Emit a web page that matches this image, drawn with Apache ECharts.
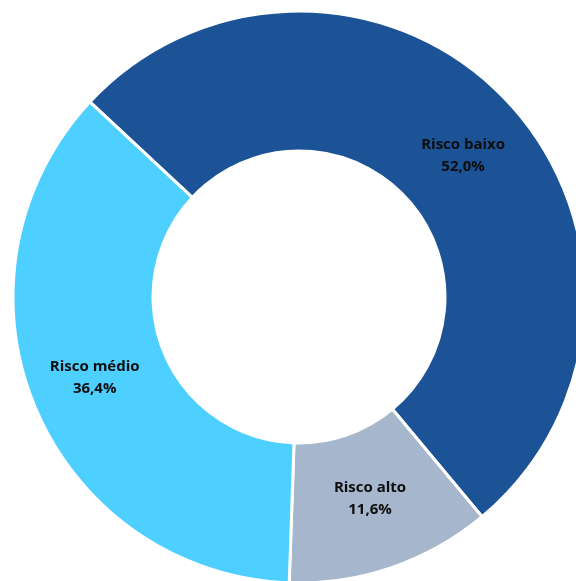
<!DOCTYPE html>
<html>
<head>
<meta charset="utf-8">
<script src="https://cdn.jsdelivr.net/npm/echarts@6/dist/echarts.min.js"></script>
<style>
  html, body { margin: 0; padding: 0; background: #ffffff; }
  #chart { width: 576px; height: 581px; }
</style>
</head>
<body>
<div id="chart"></div>
<script>
// Risk distribution shares, in percent
const categories = ['Risco baixo', 'Risco alto', 'Risco médio'];
const shares = [52.0, 11.6, 36.4];
const colors = ['#1b5396', '#a6b6cc', '#4dcfff'];

// small nudges for the in-slice labels
const labelOffsets = [[5, 9], [0, -5], [-2, -3]];

const chart = echarts.init(document.getElementById('chart'));

const data = categories.map((name, i) => ({
  name: name,
  value: shares[i],
  itemStyle: { color: colors[i] },
  label: { offset: labelOffsets[i] }
}));

chart.setOption({
  animation: false,
  series: [{
    type: 'pie',
    center: [299, 297],
    radius: [146, 286],
    startAngle: 137,
    clockwise: true,
    avoidLabelOverlap: false,
    itemStyle: { borderColor: '#ffffff', borderWidth: 3 },
    label: {
      position: 'inside',
      color: '#0d0d0d',
      fontFamily: 'Open Sans',
      fontWeight: 'bold',
      fontSize: 15,
      lineHeight: 22,
      formatter: p => p.name + '\n' + p.value.toFixed(1).replace('.', ',') + '%'
    },
    labelLine: { show: false },
    data: data
  }]
});
</script>
</body>
</html>
